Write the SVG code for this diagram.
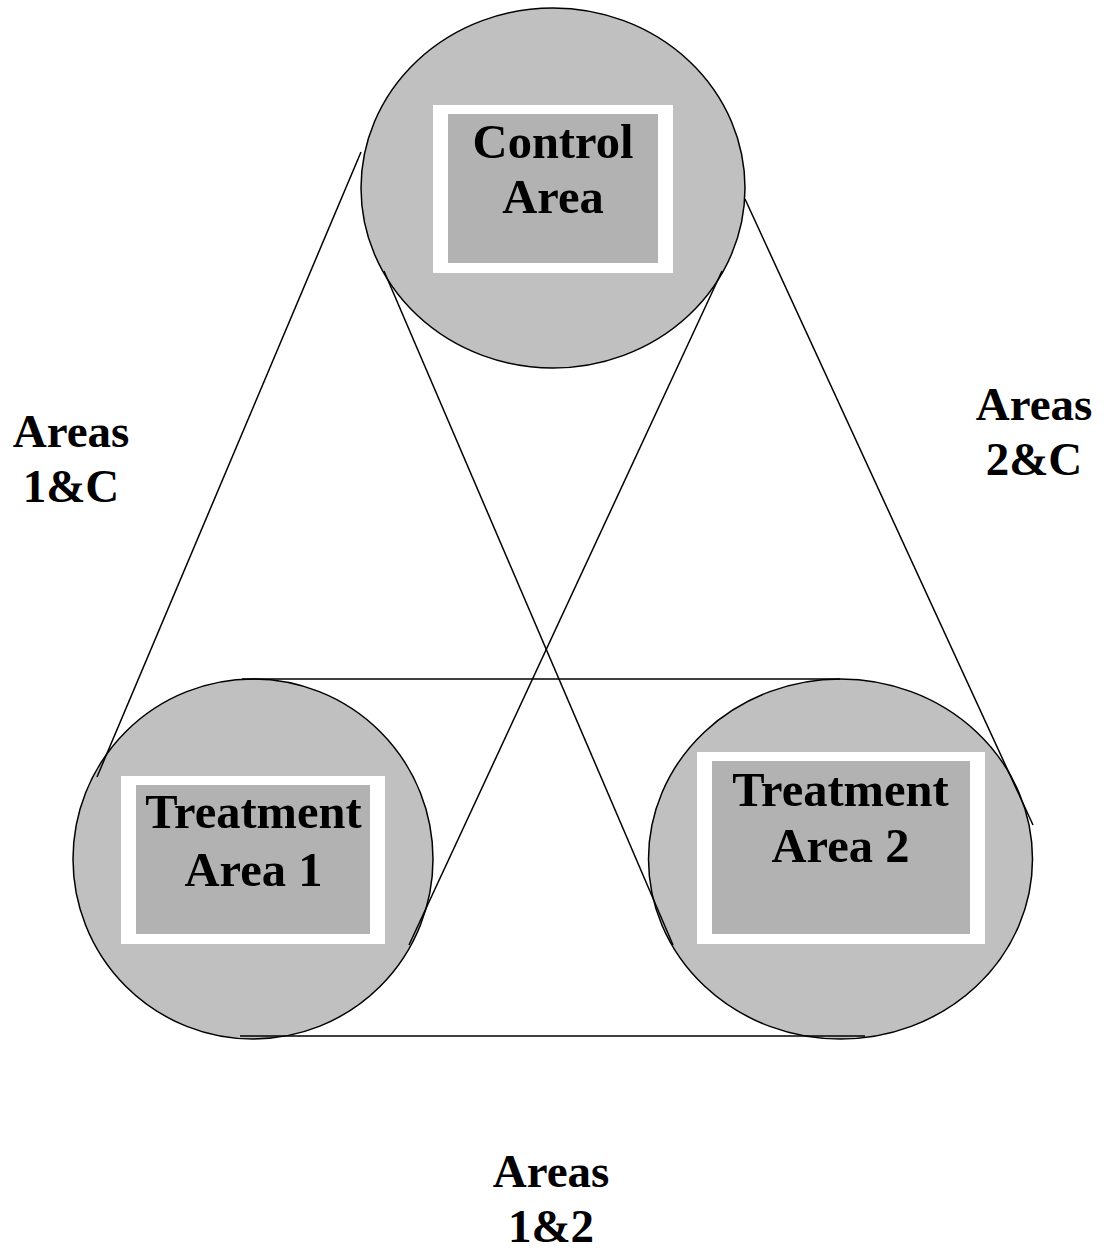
<svg xmlns="http://www.w3.org/2000/svg" width="1104" height="1253" viewBox="0 0 1104 1253">
<style>
.area{fill:#c0c0c0;stroke:#000;stroke-width:1.5}
.frame{fill:#ffffff}
.inner{fill:#b2b2b2}
.lbl{font-family:"Liberation Serif","Times New Roman",serif;font-weight:bold;font-size:47px;fill:#000;text-anchor:middle}
.nt{font-size:48.5px}
.conn{stroke:#000;stroke-width:1.5;fill:none}
</style>
<rect width="1104" height="1253" fill="#fff"/>
<g id="node-control">
<ellipse class="area" cx="553" cy="188" rx="192" ry="180"/>
<rect class="frame" x="433" y="105" width="240" height="168"/>
<rect class="inner" x="448" y="114" width="210" height="149"/>
<text class="lbl nt" x="553" y="158">Control</text>
<text class="lbl nt" x="553" y="213">Area</text>
</g>
<g id="node-treatment1">
<ellipse class="area" cx="253" cy="859" rx="180" ry="180"/>
<rect class="frame" x="121" y="776" width="264" height="168"/>
<rect class="inner" x="136" y="785" width="234" height="149"/>
<text class="lbl nt" x="253.5" y="828">Treatment</text>
<text class="lbl nt" x="253.5" y="886">Area 1</text>
</g>
<g id="node-treatment2">
<ellipse class="area" cx="840.5" cy="859" rx="192" ry="180"/>
<rect class="frame" x="697" y="752" width="288" height="192"/>
<rect class="inner" x="712" y="761" width="258" height="173"/>
<text class="lbl nt" x="840.5" y="806">Treatment</text>
<text class="lbl nt" x="840.5" y="862">Area 2</text>
</g>
<g id="connectors">
<line class="conn" x1="361" y1="152" x2="97" y2="777"/>
<line class="conn" x1="745" y1="199" x2="1033" y2="825"/>
<line class="conn" x1="384" y1="271" x2="673" y2="945"/>
<line class="conn" x1="722" y1="271" x2="409" y2="945"/>
<line class="conn" x1="242" y1="679" x2="840" y2="679"/>
<line class="conn" x1="240" y1="1036" x2="865" y2="1036"/>
</g>
<g id="labels">
<text class="lbl" x="71" y="447">Areas</text>
<text class="lbl" x="71" y="502">1&amp;C</text>
<text class="lbl" x="1034" y="420">Areas</text>
<text class="lbl" x="1034" y="475">2&amp;C</text>
<text class="lbl" x="551" y="1187">Areas</text>
<text class="lbl" x="551" y="1242">1&amp;2</text>
</g>
</svg>
